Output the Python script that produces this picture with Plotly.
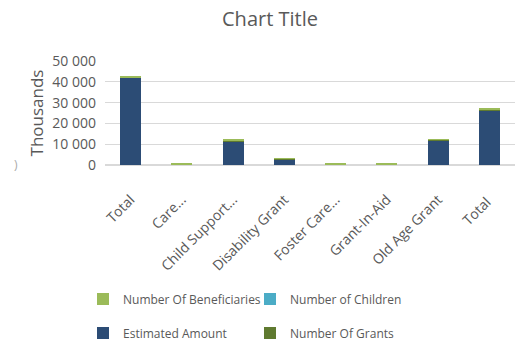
import plotly.graph_objects as go

categories = ["Total", "Care...", "Child Support...", "Disability Grant", "Foster Care...",
              "Grant-In-Aid", "Old Age Grant", "Total "]
estimated_amount = [41900, 0, 11400, 2650, 0, 0, 11800, 26300]
number_of_grants = [400, 450, 400, 300, 450, 450, 400, 400]
number_of_children = [0, 0, 0, 0, 0, 0, 0, 0]
number_of_beneficiaries = [250, 250, 250, 200, 250, 250, 250, 300]

FONT = "Open Sans"
GRAY = "#595959"

fig = go.Figure()
fig.add_trace(go.Bar(x=categories, y=estimated_amount, name="Estimated Amount",
                     marker_color="#2c4c75", legend="legend2", legendrank=1))
fig.add_trace(go.Bar(x=categories, y=number_of_grants, name="Number Of Grants",
                     marker_color="#5f7a30", legend="legend2", legendrank=2))
fig.add_trace(go.Bar(x=categories, y=number_of_children, name="Number of Children",
                     marker_color="#4bacc6", legend="legend", legendrank=2))
fig.add_trace(go.Bar(x=categories, y=number_of_beneficiaries, name="Number Of Beneficiaries",
                     marker_color="#9bbb59", legend="legend", legendrank=1))
for t in fig.data:
    t.marker.line.width = 0

legend_common = dict(orientation="h", font=dict(family=FONT, size=12, color=GRAY),
                     bgcolor="rgba(0,0,0,0)", entrywidth=122, entrywidthmode="pixels",
                     xanchor="left", yanchor="middle", itemwidth=30, traceorder="normal",
                     xref="container", yref="container")

fig.update_layout(
    width=520, height=347,
    margin=dict(l=105, r=5, t=61, b=182, autoexpand=False),
    paper_bgcolor="white", plot_bgcolor="white",
    barmode="stack", bargap=0.59,
    separators=". ",
    title=dict(text="Chart Title", x=270 / 520, xanchor="center", y=1 - 19 / 347, yanchor="middle",
               font=dict(family=FONT, size=20, color=GRAY)),
    font=dict(family=FONT, color=GRAY),
    xaxis=dict(tickangle=-45, tickfont=dict(family=FONT, size=14, color=GRAY), automargin=False,
               ticklabelstandoff=20,
               showline=True, linecolor="#d9d9d9", linewidth=1, ticks="", showgrid=False),
    yaxis=dict(range=[0, 50000], dtick=10000, tickformat=",d", automargin=False,
               tickfont=dict(family=FONT, size=14, color=GRAY), ticklabelstandoff=8,
               gridcolor="#d9d9d9", gridwidth=1, zeroline=True, zerolinecolor="#d9d9d9",
               title=dict(text="Thousands", font=dict(family=FONT, size=17, color=GRAY), standoff=4)),
    legend=dict(x=83 / 520, y=1 - 299 / 347, **legend_common),
    legend2=dict(x=83 / 520, y=1 - 333 / 347, **legend_common),
    annotations=[dict(text=")", x=(12 - 105) / 410, y=(165 - 175) / 104, xref="paper", yref="paper",
                      showarrow=False, font=dict(family=FONT, size=12, color="#aaaaaa"))],
)

fig.write_html("out.html")
